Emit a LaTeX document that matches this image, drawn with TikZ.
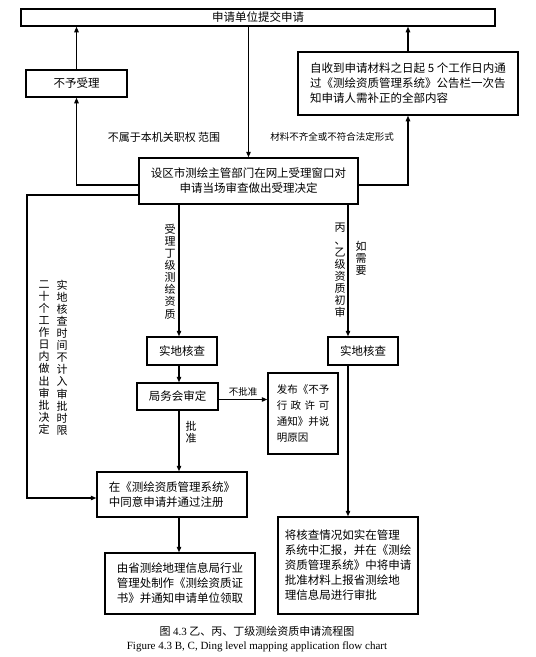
\documentclass[tikz,border=0pt]{standalone}
\usepackage{fontspec}
\setmainfont{Liberation Serif}
\newfontfamily\cjk{Noto Sans CJK SC}
\usetikzlibrary{arrows.meta, positioning, calc}

\tikzset{
  box/.style={draw, line width=1.5pt, inner sep=0pt, align=left,
              font=\fontsize{11.5}{15}\selectfont\cjk},
  arr/.style={line width=1.1pt, -{Triangle[length=5.5pt,width=4.5pt]}},
  vlabel/.style={inner sep=0pt, align=center, font=\fontsize{11}{12.1}\selectfont\cjk},
  hlabel/.style={inner sep=0pt, font=\fontsize{11}{13}\selectfont\cjk},
  smalllbl/.style={inner sep=0pt, font=\fontsize{9.5}{11}\selectfont\cjk},
}

\begin{document}
\begin{tikzpicture}[x=1pt, y=-1pt]
\useasboundingbox (0,0) rectangle (536,657);

% boxes
\node[box, minimum width=474pt, minimum height=17pt, align=center] (submit) at (258,17.5) {申请单位提交申请};
\node[box, minimum width=101pt, minimum height=27pt, align=center] (reject) at (76.5,83.5) {不予受理};
\node[box, minimum width=220pt, minimum height=63pt] (notify) at (408,83.5)
  {自收到申请材料之日起 5 个工作日内通\\过《测绘资质管理系统》公告栏一次告\\知申请人需补正的全部内容};
\node[box, minimum width=219pt, minimum height=46pt, align=center] (decide) at (248.5,181)
  {设区市测绘主管部门在网上受理窗口对\\申请当场审查做出受理决定};
\node[box, minimum width=70pt, minimum height=28pt, align=center] (check1) at (182,351) {实地核查};
\node[box, minimum width=70pt, minimum height=28pt, align=center] (check2) at (363,351) {实地核查};
\node[box, minimum width=81pt, minimum height=27pt, align=center] (meeting) at (177.5,396.5) {局务会审定};
\node[box, minimum width=70pt, minimum height=81pt, font=\fontsize{10.5}{16}\selectfont\cjk] (refuse) at (303,413.5)
  {发布《不予\\\makebox[5em]{行\hfill 政\hfill 许\hfill 可}\\通知》并说\\明原因};
\node[box, minimum width=150pt, minimum height=45pt] (approve) at (172,494.5)
  {在《测绘资质管理系统》\\中同意申请并通过注册};
\node[box, minimum width=150pt, minimum height=61pt] (cert) at (180,583.5)
  {由省测绘地理信息局行业\\管理处制作《测绘资质证\\书》并通知申请单位领取};
\node[box, minimum width=140pt, minimum height=97pt] (report) at (348,565.5)
  {将核查情况如实在管理\\系统中汇报，并在《测绘\\资质管理系统》中将申请\\批准材料上报省测绘地\\理信息局进行审批};

% columns and corner of the loop
\coordinate (colA) at (179,0);
\coordinate (colB) at (348,0);
\coordinate (loop) at (27,498);

% connectors
\draw[arr] (submit.south -| decide.north) -- (decide.north);
\draw[arr] ([yshift=-4pt]decide.west) -| (reject.south);
\draw[arr] (reject.north) -- (reject.north |- submit.south);
\draw[arr] ([yshift=-4pt]decide.east) -| (notify.south);
\draw[arr] (notify.north) -- (notify.north |- submit.south);
\draw[arr] ([yshift=-14pt]decide.west) -| (loop) -- (loop -| approve.west);
\draw[arr] (colA |- decide.south) -- (colA |- check1.north);
\draw[arr] (colA |- check1.south) -- (colA |- meeting.north);
\draw[arr] ([yshift=-3pt]meeting.east) -- ([yshift=-3pt]meeting.east -| refuse.west)
      node[midway, above=3pt, smalllbl] {不批准};
\draw[arr] (colA |- meeting.south) -- (colA |- approve.north)
      node[pos=0.35, right=6pt, vlabel] {批\\准};
\draw[arr] (colA |- approve.south) -- (colA |- cert.north);
\draw[arr] (colB |- decide.south) -- (colB |- check2.north);
\draw[arr] (colB |- check2.south) -- (colB |- report.north);

% labels
\node[hlabel] (outscope) at (164,137) {不属于本机关职权 范围};
\node[smalllbl] (incomplete) at (332,137) {材料不齐全或不符合法定形式};
\node[vlabel] (grade4) at (170,271.5) {受\\理\\丁\\级\\测\\绘\\资\\质};
\node[vlabel] (grade23) at (340,270.5) {丙\\、\\乙\\级\\资\\质\\初\\审};
\node[vlabel] (ifneed) at (361,258) {如\\需\\要};
\node[vlabel] (timeA) at (62,357.5) {实\\地\\核\\查\\时\\间\\不\\计\\入\\审\\批\\时\\限};
\node[vlabel] (timeB) at (44,357.5) {二\\十\\个\\工\\作\\日\\内\\做\\出\\审\\批\\决\\定};

% caption
\node[hlabel] (capzh) at (257,631) {图 {\rmfamily 4.3} 乙、丙、丁级测绘资质申请流程图};
\node[inner sep=0pt, font=\fontsize{11}{13}\selectfont] (capen) at (257,647)
  {Figure 4.3 B, C, Ding level mapping application flow chart};
\end{tikzpicture}
\end{document}
